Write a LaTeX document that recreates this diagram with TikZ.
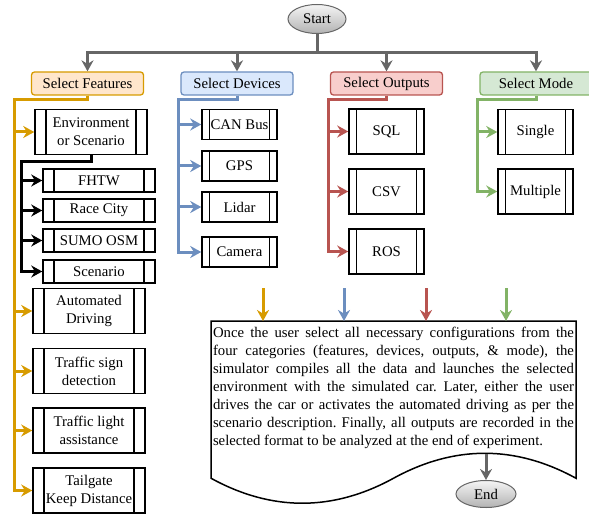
\documentclass[tikz,border=0pt]{standalone}
\usepackage{fontspec}
\setmainfont{Liberation Serif}
\usepackage{tikz}
\usetikzlibrary{arrows.meta,shapes.geometric,calc}

\definecolor{featline}{HTML}{D79B00}
\definecolor{featfill}{HTML}{FFE6CC}
\definecolor{devline}{HTML}{6C8EBF}
\definecolor{devfill}{HTML}{DAE8FC}
\definecolor{outpline}{HTML}{B85450}
\definecolor{outpfill}{HTML}{F8CECC}
\definecolor{modeline}{HTML}{82B366}
\definecolor{modefill}{HTML}{D5E8D4}
\definecolor{flowgray}{HTML}{666666}

\begin{document}
\frenchspacing
\begin{tikzpicture}[x=1bp,y=-1bp,
		boxtext/.style={font=\fontsize{14.8}{18}\selectfont,align=center,inner sep=0pt},
		select/.style={boxtext,draw=#1line,fill=#1fill,rounded corners=3bp,line width=1.3bp,minimum width=112bp,minimum height=23bp},
		process/.style={boxtext,draw,line width=1.5bp,minimum width=#1,
			path picture={\draw[line width=1.5bp]
				($(path picture bounding box.north west)!.1!(path picture bounding box.north east)$) --
				($(path picture bounding box.south west)!.1!(path picture bounding box.south east)$)
				($(path picture bounding box.north east)!.1!(path picture bounding box.north west)$) --
				($(path picture bounding box.south east)!.1!(path picture bounding box.south west)$);}},
		terminal/.style={boxtext,ellipse,draw=flowgray,line width=1bp,top color=gray!8,bottom color=gray!60},
		flow/.style={line width=3bp,-{Stealth[length=11bp,width=12bp]}}]
	\useasboundingbox (0,0) rectangle (589,515);

	\begin{scope}[every node/.style={terminal}]
		\node (start) at (317,19) [minimum width=58bp,minimum height=29bp] {Start};
		\node (end) at (486,494) [minimum width=60bp,minimum height=27bp] {End};
	\end{scope}

	\node[select=feat] (feat) at (87.5,83.5) {Select Features};
	\node[select=dev] (dev) at (237,83.5) {Select Devices};
	\node[select=outp] (outp) at (386.5,83.5) {Select Outputs};
	\node[select=mode] (mode) at (536,83.5) {Select Mode};

	\begin{scope}[every node/.style={process=112bp,minimum height=45bp}]
		\node (env) at (91,132) {Environment\\or Scenario};
		\node (auto) at (89,311) {Automated\\Driving};
		\node (sign) at (89,371) {Traffic sign\\detection};
		\node (light) at (89,430.5) {Traffic light\\assistance};
		\node (tail) at (89,490.5) {Tailgate\\Keep Distance};
	\end{scope}

	\begin{scope}[every node/.style={process=112bp,minimum height=23bp}]
		\node (fhtw) at (99,180.5) {FHTW};
		\node (race) at (99,210.5) {Race City};
		\node (sumo) at (99,240.5) {SUMO OSM};
		\node (scen) at (99,271.5) {Scenario};
	\end{scope}

	\begin{scope}[every node/.style={process=75bp,minimum height=30bp}]
		\node (can) at (239.5,124.5) {CAN Bus};
		\node (gps) at (239.5,166) {GPS};
		\node (lidar) at (239.5,207) {Lidar};
		\node (cam) at (239.5,252) {Camera};
	\end{scope}

	\begin{scope}[every node/.style={process=75bp,minimum height=45bp}]
		\node (sql) at (386.5,131.5) {SQL};
		\node (csv) at (386.5,191.5) {CSV};
		\node (ros) at (386.5,251.5) {ROS};
		\node (single) at (535.5,132) {Single};
		\node (multi) at (535.5,191.5) {Multiple};
	\end{scope}

	% document shape with the summary
	\draw[line width=1.5bp] (211,321) -- (576,321) -- (576,478.25)
		.. controls (515.2,444.95) and (454.3,444.95) .. (393.5,478.25)
		.. controls (332.7,511.55) and (271.8,511.55) .. (211,478.25) -- cycle;
	\node[boxtext,align=justify,text width=361bp,anchor=north] (doc) at (393.5,327) {\tolerance=10000
		Once the user select all necessary configurations from the\linebreak
		four categories (features, devices, outputs, \& mode), the\linebreak
		simulator compiles all the data and launches the selected\linebreak
		environment with the simulated car. Later, either the user\linebreak
		drives the car or activates the automated driving as per the\linebreak
		scenario description. Finally, all outputs are recorded in the\linebreak
		selected format to be analyzed at the end of experiment.};

	\begin{scope}
		\coordinate (hub) at (317,53);
		\coordinate (fbend) at (14,100);
		\coordinate (ebend) at (21,162);
		\coordinate (dbend) at (178,100);
		\coordinate (obend) at (328,100);
		\coordinate (mbend) at (477,100);
		\coordinate (dtop) at (211,321);
		\coordinate (peak) at (486,454);
		\coordinate (fdoc) at (263,288);
		\coordinate (ddoc) at (344,288);
		\coordinate (odoc) at (426,288);
		\coordinate (mdoc) at (506,288);

		\draw[line width=3bp,flowgray] (start) -- (hub);
		\draw[flow,flowgray] (hub) -| (feat);
		\draw[flow,flowgray] (hub) -| (dev);
		\draw[flow,flowgray] (hub) -| (outp);
		\draw[flow,flowgray] (hub) -| (mode);

		\draw[flow,featline] (feat) |- (fbend) |- (env);
		\draw[flow,featline] (feat) |- (fbend) |- (auto);
		\draw[flow,featline] (feat) |- (fbend) |- (sign);
		\draw[flow,featline] (feat) |- (fbend) |- (light);
		\draw[flow,featline] (feat) |- (fbend) |- (tail);

		\draw[flow,black] (env) |- (ebend) |- (fhtw);
		\draw[flow,black] (env) |- (ebend) |- (race);
		\draw[flow,black] (env) |- (ebend) |- (sumo);
		\draw[flow,black] (env) |- (ebend) |- (scen);

		\draw[flow,devline] (dev) |- (dbend) |- (can);
		\draw[flow,devline] (dev) |- (dbend) |- (gps);
		\draw[flow,devline] (dev) |- (dbend) |- (lidar);
		\draw[flow,devline] (dev) |- (dbend) |- (cam);

		\draw[flow,outpline] (outp) |- (obend) |- (sql);
		\draw[flow,outpline] (outp) |- (obend) |- (csv);
		\draw[flow,outpline] (outp) |- (obend) |- (ros);

		\draw[flow,modeline] (mode) |- (mbend) |- (single);
		\draw[flow,modeline] (mode) |- (mbend) |- (multi);

		\draw[flow,featline] (fdoc) -- (fdoc |- dtop);
		\draw[flow,devline] (ddoc) -- (ddoc |- dtop);
		\draw[flow,outpline] (odoc) -- (odoc |- dtop);
		\draw[flow,modeline] (mdoc) -- (mdoc |- dtop);
		\draw[flow,flowgray] (peak) -- (end);
	\end{scope}
\end{tikzpicture}
\end{document}
